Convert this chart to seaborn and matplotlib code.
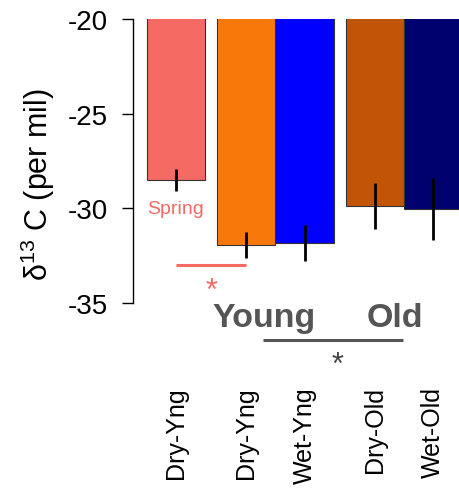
import matplotlib
matplotlib.use("Agg")
import matplotlib.pyplot as plt
import seaborn as sns
import pandas as pd

# ---- data ----
groups = ["Spring Dry-Yng", "Dry-Yng", "Wet-Yng", "Dry-Old", "Wet-Old"]
tick_labels = ["Dry-Yng", "Dry-Yng", "Wet-Yng", "Dry-Old", "Wet-Old"]
positions = [0.0, 1.2, 2.2, 3.4, 4.4]
values = [-28.5, -31.94, -31.83, -29.88, -30.04]
errors = [0.6, 0.69, 0.95, 1.2, 1.65]
colors = ["#F66A64", "#F8790A", "#0000FF", "#C25505", "#00006E"]
yticks = [-35, -30, -25, -20]

sns.set_style("ticks")
plt.rcParams["font.family"] = ["Liberation Sans", "DejaVu Sans"]
plt.rcParams["mathtext.fontset"] = "custom"
plt.rcParams["mathtext.rm"] = "Liberation Sans"
plt.rcParams["mathtext.it"] = "Liberation Sans:italic"
plt.rcParams["mathtext.bf"] = "Liberation Sans:bold"
plt.rcParams["text.color"] = "black"
plt.rcParams["xtick.color"] = "black"
plt.rcParams["ytick.color"] = "black"

df = pd.DataFrame({"group": groups, "pos": positions, "value": values})

W, H = 459, 489
fig = plt.figure(figsize=(W / 100, H / 100), dpi=100)
ax = fig.add_axes([133 / W, 1 - 304 / H, 1 - 133 / W, (304 - 20) / H])

sns.barplot(data=df, x="pos", y="value", hue="group",
            palette=dict(zip(groups, colors)), native_scale=True,
            width=1.0, dodge=False, legend=False, errorbar=None,
            saturation=1.0, edgecolor="#333333", linewidth=0.8, ax=ax)
ax.errorbar(positions, values, yerr=errors, fmt="none", ecolor="black",
            elinewidth=2.0, capsize=0, zorder=5)

ax.set_ylim(-35, -20)
ax.set_xlim(-0.735, 4.838)
ax.set_yticks(yticks)
ax.set_yticklabels([str(v) for v in yticks], fontsize=20)
ax.set_xticks(positions)
ax.set_xticklabels(tick_labels, rotation=90, fontsize=18)
ax.tick_params(axis="x", length=0, pad=60, bottom=False)
ax.tick_params(axis="y", left=True, length=8, width=1.0, pad=10,
               color="black", labelcolor="black", direction="out")
for s in ["top", "right", "bottom"]:
    ax.spines[s].set_visible(False)
ax.spines["left"].set_linewidth(1.0)
ax.spines["left"].set_color("black")
ax.set_xlabel("")
ax.set_ylabel("")

ax.text(-0.291, 0.419, r"δ$^{13}$ C (per mil)", transform=ax.transAxes,
        rotation=90, ha="center", va="center", fontsize=22, color="black")

# annotations
salmon = colors[0]
grey = "#555555"
ax.text(positions[0], -30.0, "Spring", color=salmon, fontsize=14,
        ha="center", va="center")
ax.plot([positions[0], positions[1]], [-33.0, -33.0], color=salmon, lw=2.2,
        clip_on=False, solid_capstyle="butt")
ax.text((positions[0] + positions[1]) / 2, -34.79, "*", color=salmon,
        fontsize=22, ha="center", va="baseline", clip_on=False)
ax.text(1.5, -36.22, "Young", color=grey, fontsize=24.5, fontweight="bold",
        ha="center", va="baseline", clip_on=False)
ax.text(3.74, -36.22, "Old", color=grey, fontsize=24.5, fontweight="bold",
        ha="center", va="baseline", clip_on=False)
ax.plot([1.49, 3.88], [-36.96, -36.96], color=grey, lw=2.2, clip_on=False,
        solid_capstyle="butt")
ax.text(2.755, -38.7, "*", color="#444444", fontsize=22, ha="center",
        va="baseline", clip_on=False)

fig.savefig("out.png", dpi=100)
